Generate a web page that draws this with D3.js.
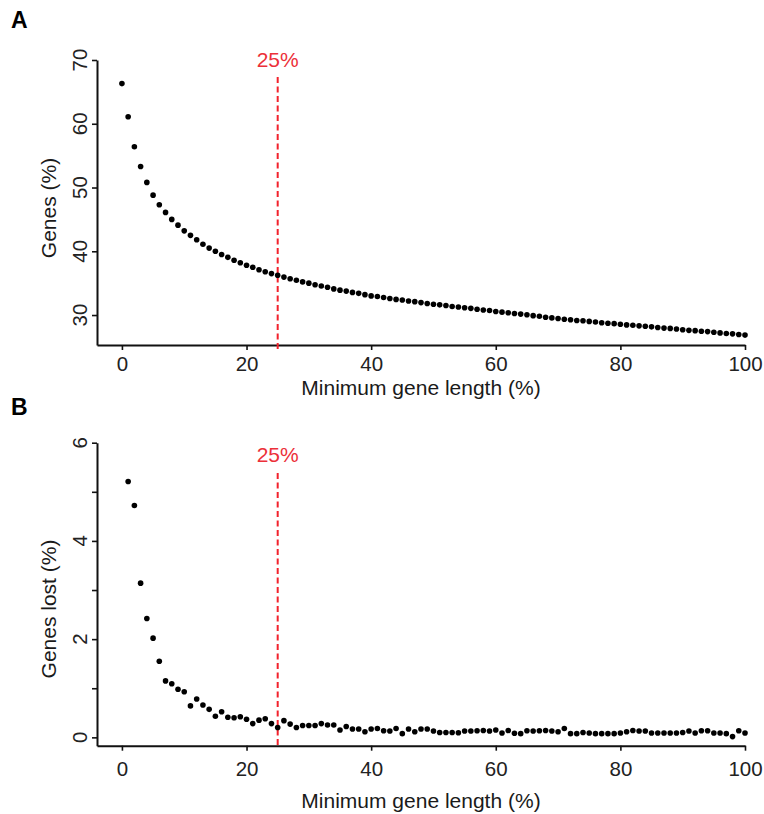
<!DOCTYPE html>
<html>
<head>
<meta charset="utf-8">
<script src="https://cdn.jsdelivr.net/npm/d3@7"></script>
<style>
  html, body { margin: 0; padding: 0; background: #fff; }
  svg { display: block; font-family: "Liberation Sans", Arial, Helvetica, sans-serif; }
</style>
</head>
<body>
<svg id="chart" width="764" height="814"></svg>
<script>
// ---- DATA ----
const minLengthA = [0,1,2,3,4,5,6,7,8,9,10,11,12,13,14,15,16,17,18,19,20,21,22,23,24,25,26,27,28,29,30,31,32,33,34,35,36,37,38,39,40,41,42,43,44,45,46,47,48,49,50,51,52,53,54,55,56,57,58,59,60,61,62,63,64,65,66,67,68,69,70,71,72,73,74,75,76,77,78,79,80,81,82,83,84,85,86,87,88,89,90,91,92,93,94,95,96,97,98,99,100];
const genesPct = [66.3,61.1,56.4,53.3,50.8,48.8,47.3,46.1,45.0,44.1,43.2,42.5,41.8,41.1,40.5,40.0,39.5,39.05,38.6,38.2,37.8,37.5,37.1,36.8,36.5,36.25,35.95,35.7,35.45,35.2,35.0,34.75,34.55,34.35,34.1,33.9,33.75,33.55,33.4,33.2,33.0,32.9,32.75,32.6,32.45,32.35,32.2,32.1,31.95,31.8,31.7,31.6,31.5,31.35,31.25,31.15,31.05,30.9,30.8,30.7,30.55,30.45,30.35,30.25,30.15,30.05,29.9,29.8,29.65,29.55,29.45,29.35,29.25,29.15,29.1,29.0,28.9,28.8,28.7,28.65,28.55,28.45,28.4,28.3,28.25,28.15,28.05,27.95,27.9,27.8,27.7,27.6,27.55,27.45,27.4,27.3,27.2,27.1,27.05,26.95,26.85];

const minLengthB = [1,2,3,4,5,6,7,8,9,10,11,12,13,14,15,16,17,18,19,20,21,22,23,24,25,26,27,28,29,30,31,32,33,34,35,36,37,38,39,40,41,42,43,44,45,46,47,48,49,50,51,52,53,54,55,56,57,58,59,60,61,62,63,64,65,66,67,68,69,70,71,72,73,74,75,76,77,78,79,80,81,82,83,84,85,86,87,88,89,90,91,92,93,94,95,96,97,98,99,100];
const genesLostPct = [5.21,4.72,3.14,2.42,2.02,1.55,1.15,1.09,0.98,0.93,0.64,0.78,0.66,0.57,0.43,0.52,0.41,0.40,0.42,0.37,0.28,0.35,0.38,0.28,0.20,0.34,0.27,0.20,0.24,0.24,0.24,0.28,0.25,0.25,0.15,0.22,0.17,0.17,0.115,0.17,0.18,0.135,0.13,0.18,0.075,0.17,0.115,0.17,0.17,0.13,0.10,0.10,0.10,0.095,0.13,0.13,0.135,0.14,0.13,0.15,0.09,0.14,0.085,0.075,0.135,0.13,0.135,0.14,0.13,0.115,0.18,0.075,0.075,0.10,0.09,0.075,0.075,0.075,0.075,0.09,0.115,0.14,0.13,0.13,0.09,0.09,0.09,0.09,0.09,0.10,0.13,0.09,0.135,0.135,0.09,0.09,0.075,0.015,0.135,0.09];

const xTicks = [0, 20, 40, 60, 80, 100];
const yTicksA = [30, 40, 50, 60, 70];
const yTicksB = [0, 1, 2, 3, 4, 5, 6];
const yLabelsB = [0, 2, 4, 6];
const cutoff = 25;
const cutoffLabel = "25%";
const xTitle = "Minimum gene length (%)";
const yTitleA = "Genes (%)";
const yTitleB = "Genes lost (%)";
const panelLetters = ["A", "B"];

// ---- LAYOUT ----
const svg = d3.select("#chart");
svg.append("rect").attr("width", 764).attr("height", 814).attr("fill", "#fff");

const fontSize = 21;
const tickFont = 20.5;
const red = "#ec3039";
const redLine = "#f2222c";

const x = d3.scaleLinear().domain([-4, 100]).range([97, 745]);

const panels = [
  {
    letter: panelLetters[0], letterY: 28,
    xs: minLengthA, ys: genesPct,
    y: d3.scaleLinear().domain([25.3, 70]).range([345, 60]),
    yTicks: yTicksA, yLabels: yTicksA,
    yTitle: yTitleA, yTitleCy: 208,
    tickPad: 6, xTitleY: 395,
    lineTop: 77, lineBottom: 350, labelY: 66.5
  },
  {
    letter: panelLetters[1], letterY: 415,
    xs: minLengthB, ys: genesLostPct,
    y: d3.scaleLinear().domain([-0.17, 6]).range([745.7, 442.7]),
    yTicks: yTicksB, yLabels: yLabelsB,
    yTitle: yTitleB, yTitleCy: 609,
    tickPad: 10.5, xTitleY: 807.5,
    lineTop: 473, lineBottom: 748, labelY: 461.5
  }
];

panels.forEach(p => {
  const g = svg.append("g");
  const y0 = p.y.range()[0];

  // panel letter
  g.append("text")
    .attr("x", 11).attr("y", p.letterY)
    .attr("font-size", 23).attr("font-weight", "bold")
    .attr("fill", "#000")
    .text(p.letter);

  // x axis
  const xa = g.append("g")
    .attr("transform", `translate(0,${y0})`)
    .call(d3.axisBottom(x).tickValues(xTicks).tickSize(5).tickSizeOuter(0).tickPadding(p.tickPad));
  xa.select(".domain").attr("stroke", "#111").attr("stroke-width", 2);
  xa.selectAll(".tick line").attr("stroke", "#111").attr("stroke-width", 1.6);
  xa.selectAll(".tick text")
    .attr("font-size", tickFont)
    .attr("font-family", "Liberation Sans, Arial, sans-serif")
    .attr("fill", "#222");

  // y axis
  const ya = g.append("g")
    .attr("transform", `translate(${x.range()[0]},0)`)
    .call(d3.axisLeft(p.y).tickValues(p.yTicks).tickSize(5).tickSizeOuter(0).tickFormat(""));
  ya.select(".domain").attr("stroke", "#111").attr("stroke-width", 2);
  ya.selectAll(".tick line").attr("stroke", "#111").attr("stroke-width", 1.6);

  // rotated y tick labels
  g.selectAll(".ylab").data(p.yLabels).join("text")
    .attr("class", "ylab")
    .attr("x", 87).attr("y", d => p.y(d))
    .attr("transform", d => `rotate(-90,87,${p.y(d)})`)
    .attr("text-anchor", "middle")
    .attr("font-size", tickFont)
    .attr("fill", "#222")
    .text(d => d);

  // axis titles
  g.append("text")
    .attr("x", (x.range()[0] + x.range()[1]) / 2).attr("y", p.xTitleY)
    .attr("text-anchor", "middle")
    .attr("font-size", fontSize).attr("fill", "#1a1a1a")
    .text(xTitle);

  g.append("text")
    .attr("x", 55.5).attr("y", p.yTitleCy)
    .attr("transform", `rotate(-90,55.5,${p.yTitleCy})`)
    .attr("text-anchor", "middle")
    .attr("font-size", fontSize).attr("fill", "#1a1a1a")
    .text(p.yTitle);

  // cutoff line
  g.append("line")
    .attr("x1", x(cutoff)).attr("x2", x(cutoff))
    .attr("y1", p.lineTop).attr("y2", p.lineBottom)
    .attr("stroke", redLine).attr("stroke-width", 2)
    .attr("stroke-dasharray", "6,3.5");

  g.append("text")
    .attr("x", x(cutoff)).attr("y", p.labelY)
    .attr("text-anchor", "middle")
    .attr("font-size", fontSize).attr("fill", red)
    .text(cutoffLabel);

  // points
  g.selectAll(".pt").data(p.xs.map((d, i) => [d, p.ys[i]])).join("circle")
    .attr("class", "pt")
    .attr("cx", d => x(d[0])).attr("cy", d => p.y(d[1]))
    .attr("r", 2.8).attr("fill", "#000");
});
</script>
</body>
</html>
